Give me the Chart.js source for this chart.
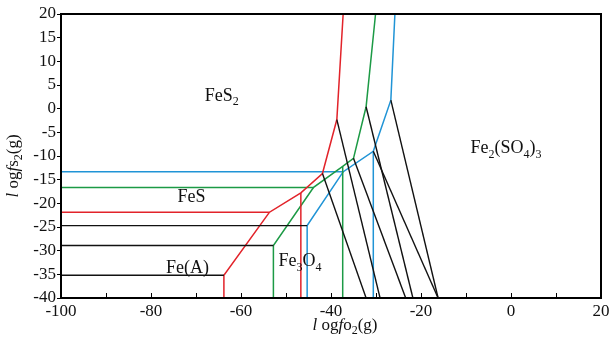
<!DOCTYPE html>
<html>
<head>
<meta charset="utf-8">
<script src="https://cdn.jsdelivr.net/npm/chart.js@4.4.1/dist/chart.umd.min.js"></script>
<style>
html, body { margin: 0; padding: 0; background: #fff; }
#wrap { width: 614px; height: 342px; }
</style>
</head>
<body>
<div id="wrap"><canvas id="diagram"></canvas></div>
<script>
// phase boundaries, points are [log fO2, log fS2]
const redMain = [[-100, -21.9], [-53.7, -21.9], [-46.7, -17.8], [-41.9, -13.7], [-38.7, -2.3], [-37.3, 20]];
const redLow = [[-53.7, -21.9], [-63.8, -35.2], [-63.8, -40]];
const redVert = [[-46.7, -17.8], [-46.7, -40]];

const greenMain = [[-100, -16.65], [-43.9, -16.65], [-37.4, -12.2], [-35.0, -10.5], [-32.2, 0.4], [-30.1, 20]];
const greenLow = [[-43.9, -16.65], [-52.8, -28.9], [-52.8, -40]];
const greenVert = [[-37.4, -12.2], [-37.4, -40]];

const blueMain = [[-100, -13.35], [-37.3, -13.35], [-30.6, -9.0], [-26.7, 1.8], [-25.8, 20]];
const blueLow = [[-37.3, -13.35], [-45.3, -24.7], [-45.3, -40]];
const blueVert = [[-30.6, -9.0], [-30.6, -40]];

const blackFlat = [
    [[-100, -35.2], [-63.8, -35.2]],
    [[-100, -28.9], [-52.8, -28.9]],
    [[-100, -24.7], [-45.3, -24.7]]
];
const blackSlant = [
    [[-41.9, -13.7], [-32.2, -40]],
    [[-38.7, -2.3], [-29.1, -40]],
    [[-35.0, -10.5], [-23.4, -40]],
    [[-32.2, 0.4], [-21.8, -40]],
    [[-30.6, -9.0], [-16.2, -40]],
    [[-26.7, 1.8], [-16.2, -40]]
];

// field names, [text, style] pieces
const phaseLabels = [
    { parts: [['FeS'], ['2', 'sub']], at: [-64.3, 2.9] },
    { parts: [['FeS']], at: [-71.0, -18.5] },
    { parts: [['Fe(A)']], at: [-71.9, -33.4] },
    { parts: [['Fe'], ['3', 'sub'], ['O'], ['4', 'sub']], at: [-46.9, -32.0] },
    { parts: [['Fe'], ['2', 'sub'], ['(SO'], ['4', 'sub'], [')'], ['3', 'sub']], at: [-1.1, -8.1] }
];
const xTitle = [['l', 'it'], [' og'], ['f', 'it'], ['o'], ['2', 'sub'], ['(g)']];
const yTitle = [['l', 'it'], [' og'], ['f', 'it'], ['s'], ['2', 'sub'], ['(g)']];

const RED = '#e2232a';
const GREEN = '#1c9a45';
const BLUE = '#2094d6';
const SERIF = '"Liberation Serif", "Times New Roman", serif';

const toPoints = (arr) => arr.map(([x, y]) => ({ x, y }));

const line = (arr, color, width = 1.5) => ({
    data: toPoints(arr),
    showLine: true,
    borderColor: color,
    borderWidth: width,
    pointRadius: 0,
    fill: false
});

const datasets = [
    ...blackFlat.map(a => line(a, '#111', 1.4)),
    ...blackSlant.map(a => line(a, '#111', 1.4)),
    line(redMain, RED), line(redLow, RED), line(redVert, RED),
    line(greenMain, GREEN), line(greenLow, GREEN), line(greenVert, GREEN),
    line(blueMain, BLUE), line(blueLow, BLUE), line(blueVert, BLUE)
];

const drawRich = (ctx, parts, x, y, size) => {
    const fontOf = (style) => {
        if (style === 'sub') return `${Math.round(size * 0.68)}px ${SERIF}`;
        if (style === 'it') return `italic ${size}px ${SERIF}`;
        return `${size}px ${SERIF}`;
    };
    let total = 0;
    parts.forEach(([t, s]) => { ctx.font = fontOf(s); total += ctx.measureText(t).width; });
    let cx = x - total / 2;
    ctx.textAlign = 'left';
    ctx.textBaseline = 'alphabetic';
    parts.forEach(([t, s]) => {
        ctx.font = fontOf(s);
        ctx.fillText(t, cx, s === 'sub' ? y + size * 0.25 : y);
        cx += ctx.measureText(t).width;
    });
};

const framePlugin = {
    id: 'frame',
    afterDraw(chart) {
        const { ctx, chartArea: a, scales: { x, y } } = chart;
        ctx.save();
        ctx.strokeStyle = '#000';
        ctx.lineWidth = 2;
        ctx.strokeRect(a.left, a.top, a.right - a.left, a.bottom - a.top);

        // inward ticks along the bottom
        ctx.lineWidth = 1;
        ctx.beginPath();
        for (let v = -90; v < 20; v += 10) {
            const px = Math.round(x.getPixelForValue(v)) + 0.5;
            ctx.moveTo(px, a.bottom);
            ctx.lineTo(px, a.bottom - 5);
        }
        ctx.stroke();

        ctx.fillStyle = '#111';
        phaseLabels.forEach(l => {
            drawRich(ctx, l.parts, x.getPixelForValue(l.at[0]), y.getPixelForValue(l.at[1]) + 6, 18);
        });

        drawRich(ctx, xTitle, 345, 330, 17);
        ctx.translate(18, 166);
        ctx.rotate(-Math.PI / 2);
        drawRich(ctx, yTitle, 0, 0, 17);
        ctx.restore();
    }
};

const tickFont = { family: SERIF, size: 17 };

new Chart(document.getElementById('diagram'), {
    type: 'scatter',
    data: { datasets },
    plugins: [framePlugin],
    options: {
        responsive: true,
        maintainAspectRatio: false,
        animation: false,
        layout: { padding: { top: 14, right: 13, left: 0, bottom: 0 } },
        plugins: { legend: { display: false }, tooltip: { enabled: false } },
        scales: {
            x: {
                type: 'linear',
                min: -100,
                max: 20,
                grid: { display: false, drawTicks: false },
                border: { display: false },
                ticks: {
                    stepSize: 10,
                    autoSkip: false,
                    maxRotation: 0,
                    padding: 3,
                    color: '#111',
                    font: tickFont,
                    callback: (v) => (v % 20 === 0 ? v : '')
                },
                afterFit: (s) => { s.height = 44; }
            },
            y: {
                type: 'linear',
                min: -40,
                max: 20,
                grid: { drawOnChartArea: false, drawTicks: true, tickLength: 4, color: '#000' },
                border: { display: false },
                ticks: {
                    stepSize: 5,
                    padding: 1,
                    color: '#111',
                    font: tickFont
                },
                afterFit: (s) => { s.width = 61; }
            }
        }
    }
});
</script>
</body>
</html>
